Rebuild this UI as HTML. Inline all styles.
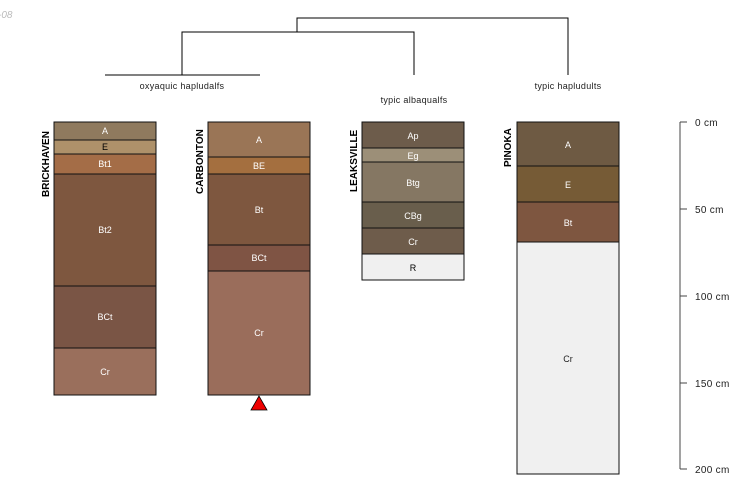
<!DOCTYPE html><html><head><style>body{margin:0;background:#fff}svg{display:block}text{font-family:"Liberation Sans",sans-serif}</style></head><body>
<svg width="750" height="500" viewBox="0 0 750 500">
<text x="-2" y="18" font-size="10" fill="#bbb" font-style="italic">-08</text>
<g stroke="#000" fill="none" stroke-width="1">
<path d="M297 32V18H568V75M182 75V32H414V75M105 75H260"/>
</g>
<g font-size="9" fill="#222" text-anchor="middle" letter-spacing="0.3">
<text x="182" y="89">oxyaquic hapludalfs</text>
<text x="414" y="103">typic albaqualfs</text>
<text x="568" y="89">typic hapludults</text>
</g>
<g stroke="#111" stroke-width="1">
<rect x="54" y="122" width="102" height="18" fill="#8f7a5e"/>
<rect x="54" y="140" width="102" height="14" fill="#ae916a"/>
<rect x="54" y="154" width="102" height="20" fill="#a46d47"/>
<rect x="54" y="174" width="102" height="112" fill="#7e573f"/>
<rect x="54" y="286" width="102" height="62" fill="#7a5545"/>
<rect x="54" y="348" width="102" height="47" fill="#9a6f5c"/>
<rect x="208" y="122" width="102" height="35" fill="#9a7556"/>
<rect x="208" y="157" width="102" height="17" fill="#a46f3f"/>
<rect x="208" y="174" width="102" height="71" fill="#7e573f"/>
<rect x="208" y="245" width="102" height="26" fill="#7f5444"/>
<rect x="208" y="271" width="102" height="124" fill="#9a6d5b"/>
<rect x="362" y="122" width="102" height="26" fill="#6d5c4b"/>
<rect x="362" y="148" width="102" height="14" fill="#9c8f78"/>
<rect x="362" y="162" width="102" height="40" fill="#857763"/>
<rect x="362" y="202" width="102" height="26" fill="#695e4c"/>
<rect x="362" y="228" width="102" height="26" fill="#6e5c4b"/>
<rect x="362" y="254" width="102" height="26" fill="#f0f0f0"/>
<rect x="517" y="122" width="102" height="44" fill="#6e5a43"/>
<rect x="517" y="166" width="102" height="36" fill="#765b36"/>
<rect x="517" y="202" width="102" height="40" fill="#7e5640"/>
<rect x="517" y="242" width="102" height="232" fill="#f0f0f0"/>
</g>
<polygon points="259,396 251,410 267,410" fill="#e00" stroke="#000" stroke-width="0.8"/>
<g font-size="9" fill="#fff" text-anchor="middle">
<text x="105" y="134">A</text><text x="105" y="150" fill="#000">E</text><text x="105" y="167">Bt1</text>
<text x="105" y="233">Bt2</text><text x="105" y="320">BCt</text><text x="105" y="375">Cr</text>
<text x="259" y="143">A</text><text x="259" y="169">BE</text><text x="259" y="213">Bt</text>
<text x="259" y="261">BCt</text><text x="259" y="336">Cr</text>
<text x="413" y="139">Ap</text><text x="413" y="159">Eg</text><text x="413" y="186">Btg</text>
<text x="413" y="219">CBg</text><text x="413" y="245">Cr</text><text x="413" y="271" fill="#000">R</text>
<text x="568" y="148">A</text><text x="568" y="188">E</text><text x="568" y="226">Bt</text>
<text x="568" y="362" fill="#222">Cr</text>
</g>
<g font-size="10" font-weight="bold" fill="#000">
<text transform="translate(49,197) rotate(-90)">BRICKHAVEN</text>
<text transform="translate(203,194) rotate(-90)">CARBONTON</text>
<text transform="translate(357,192) rotate(-90)">LEAKSVILLE</text>
<text transform="translate(511,167) rotate(-90)">PINOKA</text>
</g>
<g stroke="#444" stroke-width="1"><path d="M680 122V469M680 122H687M680 209H687M680 296H687M680 383H687M680 469H687"/></g>
<g font-size="10" fill="#222" letter-spacing="0.3">
<text x="695" y="126">0 cm</text><text x="695" y="213">50 cm</text><text x="695" y="300">100 cm</text>
<text x="695" y="387">150 cm</text><text x="695" y="473">200 cm</text>
</g>
</svg></body></html>
